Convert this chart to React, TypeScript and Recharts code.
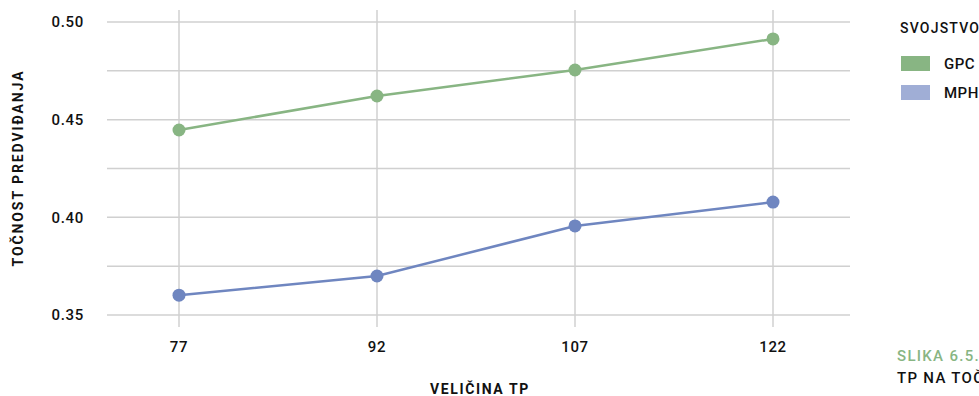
import React from 'react';
import { LineChart, Line, XAxis, YAxis, CartesianGrid } from 'recharts';

const sizes = ['77', '92', '107', '122'];
const gpc = [0.4447, 0.4621, 0.4754, 0.4913];
const mph = [0.3602, 0.370, 0.3956, 0.4078];
const yTicks = [0.35, 0.375, 0.4, 0.425, 0.45, 0.475, 0.5];
const majorTicks = [0.35, 0.4, 0.45, 0.5];
const seriesNames = ['GPC', 'MPH'];

const GREEN = '#88b583';
const BLUE = '#6f86c0';
const BLUE_LIGHT = '#a0aed6';
const FONT = 'Roboto, "Noto Sans", sans-serif';

const data = sizes.map((s, i) => ({ size: s, GPC: gpc[i], MPH: mph[i] }));
const swatch: Record<string, string> = { GPC: GREEN, MPH: BLUE_LIGHT };

const LegendBox = () => (
  <div style={{ position: 'absolute', left: 900, top: 19, fontFamily: FONT, color: '#111', fontSize: 14, letterSpacing: 1.2, whiteSpace: 'nowrap' }}>
    <div style={{ fontWeight: 500, height: 30, lineHeight: '18px' }}>SVOJSTVO</div>
    {seriesNames.map((n) => (
      <div key={n} style={{ display: 'flex', alignItems: 'center', height: 29 }}>
        <span style={{ display: 'inline-block', width: 29, height: 15, background: swatch[n], marginLeft: 1, marginRight: 14 }} />
        <span style={{ fontWeight: 500, fontSize: 15, letterSpacing: 0.5 }}>{n}</span>
      </div>
    ))}
  </div>
);

export default function App() {
  return (
    <div style={{ position: 'fixed', left: 0, top: 0, width: 979, height: 396, overflow: 'hidden', background: '#fff' }}>
      <LineChart width={979} height={396} data={data} margin={{ top: 10, right: 129, bottom: 0, left: 0 }}>
        <CartesianGrid stroke="#d0d0d0" strokeWidth={1.5} fill="none" horizontalValues={yTicks} verticalValues={sizes} />
        <XAxis
          dataKey="size"
          padding={{ left: 72, right: 77 }}
          height={69}
          axisLine={false}
          tickLine={false}
          tickSize={6}
          tickMargin={8}
          tick={{ fill: '#111', fontSize: 15, fontWeight: 500, fontFamily: FONT, letterSpacing: 0.7 }}
          label={() => (
            <text x={480} y={394} textAnchor="middle" fill="#111" fontFamily={FONT} fontSize={14} fontWeight={700} letterSpacing={1.6}>
              VELIČINA TP
            </text>
          )}
        />
        <YAxis
          type="number"
          width={107}
          domain={[0.3439, 0.5061]}
          ticks={yTicks}
          interval={0}
          axisLine={false}
          tickLine={false}
          tickSize={6}
          tickMargin={17}
          tickFormatter={(v: number) => (majorTicks.some((m) => Math.abs(m - v) < 1e-9) ? v.toFixed(2) : '')}
          tick={{ fill: '#111', fontSize: 15, fontWeight: 500, fontFamily: FONT, letterSpacing: 0.7 }}
          label={() => (
            <text x={23} y={168} transform="rotate(-90 23 168)" textAnchor="middle" fill="#111" fontFamily={FONT} fontSize={14} fontWeight={700} letterSpacing={1.9}>
              TOČNOST PREDVIĐANJA
            </text>
          )}
        />
        <Line type="linear" dataKey="GPC" stroke={GREEN} strokeWidth={2.5} dot={{ r: 6.5, fill: GREEN, stroke: 'none' }} activeDot={false} isAnimationActive={false} />
        <Line type="linear" dataKey="MPH" stroke={BLUE} strokeWidth={2.5} dot={{ r: 6.5, fill: BLUE, stroke: 'none' }} activeDot={false} isAnimationActive={false} />
      </LineChart>
      <LegendBox />
      <div style={{ position: 'absolute', left: 897, top: 345, fontFamily: FONT, fontSize: 15, letterSpacing: 1.3, fontWeight: 500, whiteSpace: 'nowrap', lineHeight: '22px' }}>
        <div style={{ color: GREEN }}>SLIKA 6.5.</div>
        <div style={{ color: '#111' }}>TP NA TOČNOST</div>
      </div>
    </div>
  );
}
